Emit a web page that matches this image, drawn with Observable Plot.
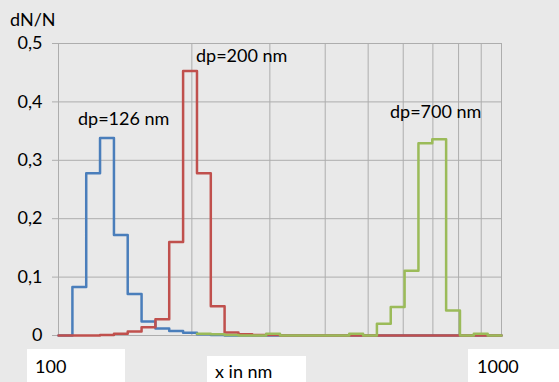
<!DOCTYPE html>
<html>
<head>
<meta charset="utf-8">
<script src="https://cdn.jsdelivr.net/npm/d3@7"></script>
<script src="https://cdn.jsdelivr.net/npm/@observablehq/plot@0.6"></script>
<style>
  html, body { margin: 0; padding: 0; background: #e9e9e9; }
  #wrap { position: relative; width: 559px; height: 382px; background: #e9e9e9; overflow: hidden; font-family: Lato, sans-serif; font-size: 18px; color: #000; }
  #wrap svg { position: absolute; left: 0; top: 0; }
  .box { position: absolute; background: #fff; }
  .lbl { position: absolute; line-height: 18px; white-space: nowrap; }
</style>
</head>
<body>
<div id="wrap"></div>
<script>
// Bin edges in nm (32 log-spaced bins per decade, 100..1000)
const binEdges = [100, 107.5, 115.5, 124.1, 133.4, 143.3, 154.0, 165.5, 177.8, 191.1,
  205.4, 220.7, 237.1, 254.8, 273.8, 294.3, 316.2, 339.8, 365.2, 392.4,
  421.7, 453.2, 487.0, 523.3, 562.3, 604.3, 649.4, 697.8, 749.9, 805.8,
  866.0, 930.6, 1000];

// dN/N per bin (32 bins)
const dp126 = [0, 0.083, 0.278, 0.338, 0.172, 0.071, 0.024, 0.012, 0.0075, 0.0045,
  0.002, 0.001, 0, 0, 0, 0, 0, 0, 0, 0,
  0, 0, 0, 0, 0, 0, 0, 0, 0, 0, 0, 0];
const dp200 = [0, 0, 0, 0.001, 0.003, 0.007, 0.014, 0.028, 0.16, 0.453,
  0.278, 0.05, 0.005, 0.002, 0.001, 0.001, 0, 0, 0, 0,
  0, 0, 0, 0, 0, 0, 0, 0, 0, 0, 0, 0];
const dp700 = [null, null, null, null, null, null, null, null, null, null,
  0.003, 0.002, 0.001, 0, 0, 0.003, 0, 0, 0, 0,
  0, 0.003, 0, 0.02, 0.049, 0.111, 0.329, 0.336, 0.043, 0, 0.003, 0];

const seriesNames = ["dp=126 nm", "dp=200 nm", "dp=700 nm"];
const seriesColors = ["#4a7ebb", "#c0504d", "#9bbb59"];
const yTicks = [0, 0.1, 0.2, 0.3, 0.4, 0.5];
const xGrid = [100, 200, 300, 400, 500, 600, 700, 800, 900, 1000];

function steps(values) {
  const pts = [];
  values.forEach((v, i) => { if (v !== null) pts.push({x: binEdges[i], y: v}); });
  const last = values[values.length - 1];
  if (last !== null) pts.push({x: binEdges[binEdges.length - 1], y: last});
  return pts;
}

const allSeries = [dp126, dp200, dp700];
const grid = "#adadad";

const chart = Plot.plot({
  width: 559,
  height: 382,
  marginLeft: 58,
  marginRight: 58,
  marginTop: 43,
  marginBottom: 47,
  style: {fontFamily: "Lato, sans-serif", fontSize: "18px", background: "transparent", color: "#000"},
  x: {type: "log", domain: [100, 1000], axis: null},
  y: {domain: [0, 0.5]},
  marks: [
    Plot.gridX(xGrid, {stroke: grid, strokeOpacity: 1}),
    Plot.gridY(yTicks, {stroke: grid, strokeOpacity: 1}),
    Plot.axisY(yTicks, {tickSize: 6, tickPadding: 10, stroke: grid, fill: "#000",
      tickFormat: d => String(d).replace(".", ","), label: null}),
    ...allSeries.map((s, i) => Plot.line(steps(s), {
      x: "x", y: "y", curve: "step-after", stroke: seriesColors[i], strokeWidth: 2.5
    }))
  ]
});

const wrap = document.getElementById("wrap");
wrap.appendChild(chart);

function addBox(l, t, w, h) {
  const d = document.createElement("div");
  d.className = "box";
  Object.assign(d.style, {left: l + "px", top: t + "px", width: w + "px", height: h + "px"});
  wrap.appendChild(d);
}
function addLabel(text, l, t) {
  const d = document.createElement("div");
  d.className = "lbl";
  d.textContent = text;
  Object.assign(d.style, {left: l + "px", top: t + "px"});
  wrap.appendChild(d);
}
addBox(27, 349, 98, 40);
addBox(207, 356, 99, 30);
addBox(468, 349, 95, 40);
addLabel("100", 35, 357);
addLabel("x in nm", 215, 362);
addLabel("1000", 477, 357);
addLabel("dN/N", 10, 10);
addLabel(seriesNames[0], 78, 109);
addLabel(seriesNames[1], 196, 46);
addLabel(seriesNames[2], 390, 102);
</script>
</body>
</html>
